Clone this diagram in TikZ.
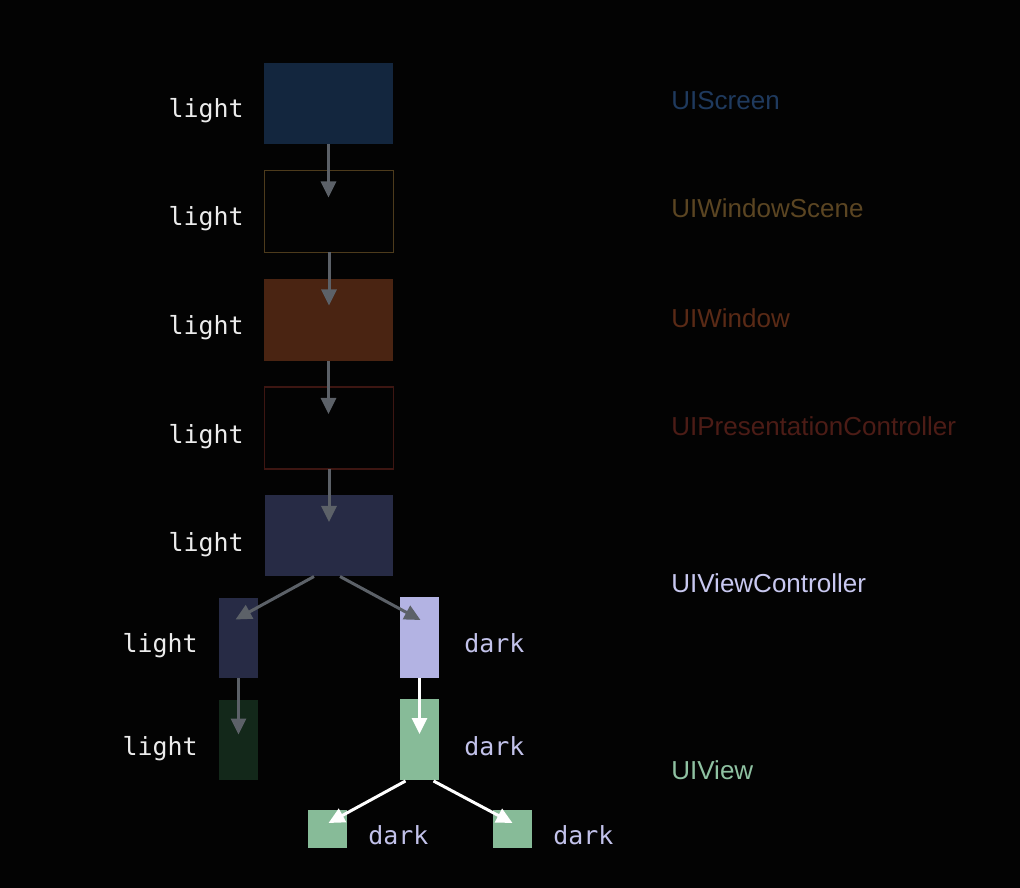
\documentclass[tikz,border=0pt]{standalone}
\usepackage{fontspec}
\setmainfont{Liberation Sans}
\setmonofont{DejaVu Sans Mono}
\usetikzlibrary{arrows.meta,calc}

\definecolor{bg}{HTML}{030303}
\definecolor{arrowgray}{HTML}{5C6168}
\definecolor{screenblue}{HTML}{13263E}
\definecolor{scenebrown}{HTML}{4D3B1C}
\definecolor{windowrust}{HTML}{4A2412}
\definecolor{presred}{HTML}{3D1612}
\definecolor{vcnavy}{HTML}{272B45}
\definecolor{vclav}{HTML}{B3B3E3}
\definecolor{viewdark}{HTML}{13281A}
\definecolor{viewgreen}{HTML}{87BB98}
\definecolor{lighttext}{HTML}{ECECEC}
\definecolor{darktext}{HTML}{C2C2EA}
\definecolor{screentext}{HTML}{1F3A5E}
\definecolor{scenetext}{HTML}{5B4522}
\definecolor{windowtext}{HTML}{5A2A16}
\definecolor{prestext}{HTML}{4C1C16}
\definecolor{vctext}{HTML}{C8C8F0}
\definecolor{viewtext}{HTML}{8FC2A2}

\begin{document}
\begin{tikzpicture}[
    x=0.02cm, y=-0.02cm,
    >={Triangle[width=0.3cm,length=0.32cm]},
    box/.style={minimum width=2.58cm, minimum height=1.64cm, inner sep=0, outer sep=0},
    tall_box/.style={minimum width=0.78cm, minimum height=1.62cm, inner sep=0, outer sep=0},
    small_box/.style={minimum width=0.78cm, minimum height=0.76cm, inner sep=0, outer sep=0},
    mode_label/.style={font=\ttfamily\fontsize{14.2}{16}\selectfont, inner sep=0},
    class_label/.style={font=\fontsize{14.8}{17}\selectfont, anchor=base west, inner sep=0},
    gray_arrow/.style={->, arrowgray, line width=0.06cm},
    white_arrow/.style={->, white, line width=0.06cm}
]
    % background and page size
    \fill[bg] (0,0) rectangle (1020,888);
    \useasboundingbox (0,0) rectangle (1020,888);

    % the chain of boxes
    \node[box, fill=screenblue] (screen) at (328.5,103.5) {};
    \node[box, draw=scenebrown, line width=0.03cm] (wscene) at (329,211.5) {};
    \node[box, fill=windowrust] (window) at (328.5,320) {};
    \node[box, draw=presred, line width=0.03cm] (pres) at (329,428) {};
    \node[box, fill=vcnavy] (vc) at (329,535.5) {};

    \node[tall_box, fill=vcnavy] (vcl) at (238.5,638) {};
    \node[tall_box, fill=vclav] (vcr) at (419.5,637.5) {};
    \node[tall_box, fill=viewdark] (viewl) at (238.5,740) {};
    \node[tall_box, fill=viewgreen] (viewr) at (419.5,739.5) {};
    \node[small_box, fill=viewgreen] (subl) at (327.5,829) {};
    \node[small_box, fill=viewgreen] (subr) at (512.5,829) {};

    % arrows
    \draw[gray_arrow] (screen.south) -- ++(0,53);
    \draw[gray_arrow] (wscene.south) -- ++(0,53);
    \draw[gray_arrow] (window.south) -- ++(0,53);
    \draw[gray_arrow] (pres.south) -- ++(0,53);
    \draw[gray_arrow] ($(vc.south)+(-15,0)$) -- ($(vcl.north)+(-3,22)$);
    \draw[gray_arrow] ($(vc.south)+(11,0)$) -- ($(vcr.north)+(1,23)$);
    \draw[gray_arrow] (vcl.south) -- ++(0,56);
    \draw[white_arrow] (vcr.south) -- ++(0,56);
    \draw[white_arrow] ($(viewr.south)+(-14,1)$) -- ($(subl.north)+(1,13)$);
    \draw[white_arrow] ($(viewr.south)+(14,1)$) -- ($(subr.north)+(0,13)$);

    % trait labels
    \node[mode_label, text=lighttext, anchor=base east] (t1) at (244,118) {light};
    \node[mode_label, text=lighttext, anchor=base east] (t2) at (244,226) {light};
    \node[mode_label, text=lighttext, anchor=base east] (t3) at (244,335) {light};
    \node[mode_label, text=lighttext, anchor=base east] (t4) at (244,443) {light};
    \node[mode_label, text=lighttext, anchor=base east] (t5) at (244,551) {light};
    \node[mode_label, text=lighttext, anchor=base east] (t6) at (198,652) {light};
    \node[mode_label, text=lighttext, anchor=base east] (t7) at (198,755) {light};
    \node[mode_label, text=darktext, anchor=base west] (t8) at (464,652) {dark};
    \node[mode_label, text=darktext, anchor=base west] (t9) at (464,755) {dark};
    \node[mode_label, text=darktext, anchor=base west] (t10) at (368,844) {dark};
    \node[mode_label, text=darktext, anchor=base west] (t11) at (553,844) {dark};

    % class names
    \node[class_label, text=screentext] (c1) at (671,110) {UIScreen};
    \node[class_label, text=scenetext] (c2) at (671,218) {UIWindowScene};
    \node[class_label, text=windowtext] (c3) at (671,327) {UIWindow};
    \node[class_label, text=prestext] (c4) at (671,435) {UIPresentationController};
    \node[class_label, text=vctext] (c5) at (671,592) {UIViewController};
    \node[class_label, text=viewtext] (c6) at (671,779) {UIView};
\end{tikzpicture}
\end{document}
